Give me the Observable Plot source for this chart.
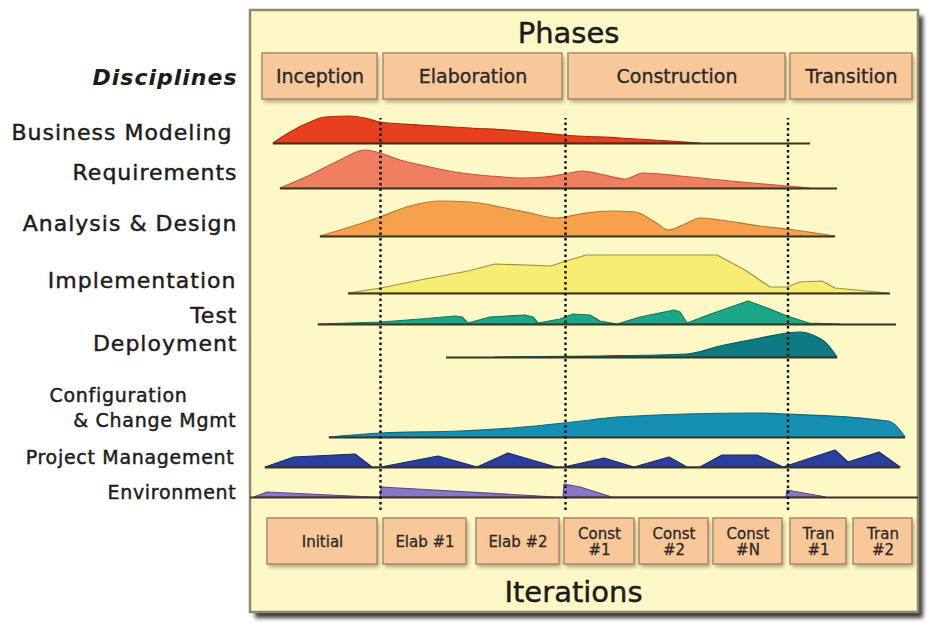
<!DOCTYPE html>
<html><head><meta charset="utf-8">
<script src="https://cdn.jsdelivr.net/npm/d3@7"></script>
<script src="https://cdn.jsdelivr.net/npm/@observablehq/plot@0.6"></script>
<style>body{margin:0;background:#fff}</style>
</head><body><div id="chart"></div>
<script>
// ---------- data (time in project days from panel start, effort in relative units) ----------
const phases = ["Inception", "Elaboration", "Construction", "Transition"];
const phaseStart = [12, 133, 318, 540];
const phaseEnd = [127, 312, 535, 662];

const iterations = ["Initial", "Elab #1", "Elab #2", "Const\n#1", "Const\n#2", "Const\n#N", "Tran\n#1", "Tran\n#2"];
const iterStart = [17, 133, 226, 314, 389, 463, 540, 603];
const iterEnd = [127, 216, 309, 384, 458, 532, 596, 662];

const disciplines = ["Business Modeling", "Requirements", "Analysis & Design", "Implementation", "Test",
  "Deployment", "Configuration & Change Mgmt", "Project Management", "Environment"];
const spanStart = [23, 30, 70, 98, 68, 196, 79, 15, 0];
const spanEnd = [560, 587, 585, 640, 646, 587, 655, 650, 668];

const businessModeling = [[23,0],[40,11],[60,21],[75,26],[100,27],[115,25],[130,21],[170,18],[220,15],[270,12],[313,8],[370,5],[420,2],[450,0]];
const requirements = [[30,0],[60,13],[90,28],[115,38],[130,35],[150,28],[180,21],[205,16],[240,12],[270,10],[295,11],[315,14],[332,17],[350,14],[375,9],[393,15],[430,12],[480,7],[537,2],[560,0]];
const analysisDesign = [[70,0],[100,9],[130,19],[160,30],[190,35],[220,34],[250,29],[280,23],[306,18],[330,22],[360,25],[385,24],[405,14],[419,6],[435,12],[450,18],[470,16],[510,10],[537,7],[585,0]];
const implementation = [[98,0],[131,5],[170,13],[218,22],[245,29],[301,27],[313,31],[336,38],[467,38],[495,23],[520,6],[537,6],[550,11],[572,12],[585,5],[638,0]];
const test = [[68,0],[131,2],[170,5],[205,8],[212,7],[218,1],[240,7],[275,9],[283,7],[288,1],[310,5],[323,10],[340,9],[350,3],[367,0],[390,7],[424,14],[430,12],[437,1],[458,9],[498,23],[520,15],[537,8],[559,1],[590,0]];
const deployment = [[245,0],[350,1],[437,3],[470,11],[510,19],[537,24],[550,25],[565,21],[575,15],[582,7],[587,0]];
const configuration = [[79,0],[131,4],[210,6],[262,9],[314,14],[340,17],[367,20],[502,24],[537,23],[638,16],[655,0]];
const projectManagement = [[15,0],[44,10],[105,13],[122,0],[131,0],[188,11],[227,0],[258,14],[306,0],[314,0],[354,9],[384,0],[419,10],[437,0],[450,0],[472,12],[507,12],[533,0],[585,17],[598,5],[629,15],[650,0]];
const environment = [[4,0],[17,5],[122,0],[130,0],[131,10],[306,0],[313,0],[314,13],[330,10],[362,0],[536,0],[537,7],[576,0]];

const profiles = [businessModeling, requirements, analysisDesign, implementation, test, deployment, configuration, projectManagement, environment];

// ---------- layout & style ----------
const rowBase = [485, 440, 392, 335, 304, 271, 191, 161, 131];
const fills = ["#e8401e", "#f07f62", "#f6a24c", "#f8ec72", "#1ca887", "#0e7a82", "#1590b2", "#2b3f9e", "#8677c8"];
const strokes = ["#a82a10", "#c05a40", "#b8782e", "#9a9440", "#0e7a5e", "#085a60", "#0b6a86", "#18296e", "#56489a"];
const curves = ["monotone-x", "monotone-x", "monotone-x", "linear", "linear", "monotone-x", "monotone-x", "linear", "linear"];

const labels = [
  {text: "Business Modeling", x: -18, y: 496, big: true},
  {text: "Requirements", x: -13, y: 456, big: true},
  {text: "Analysis & Design", x: -13, y: 405, big: true},
  {text: "Implementation", x: -14, y: 348, big: true},
  {text: "Test", x: -13, y: 313, big: true},
  {text: "Deployment", x: -13, y: 285, big: true},
  {text: "Configuration", x: -63, y: 233, big: false},
  {text: "& Change Mgmt", x: -14, y: 208, big: false},
  {text: "Project Management", x: -16, y: 171, big: false},
  {text: "Environment", x: -14, y: 136, big: false}
];

const panel = [{x1: 0, x2: 668, y1: 16, y2: 618}];
const phaseBox = {y1: 529, y2: 575, labelY: 552};
const iterBox = {y1: 64, y2: 110, labelY: 87};
const titleX = 318;
const ink = "#1c1c1c";
const heavy = {stroke: ink, strokeWidth: 0.45};

const phaseData = phases.map((p, i) => ({name: p, x1: phaseStart[i], x2: phaseEnd[i]}));
const iterData = iterations.map((p, i) => ({name: p, x1: iterStart[i], x2: iterEnd[i]}));
const boundaries = phaseStart.slice(1).map((s, i) => (phaseEnd[i] + s) / 2);

const humpMarks = profiles.map((prof, i) => Plot.areaY(
  prof.map(([t, e]) => ({t, lo: rowBase[i], hi: rowBase[i] + e})),
  {x: "t", y1: "lo", y2: "hi", fill: fills[i], stroke: strokes[i], strokeWidth: 1.2, curve: curves[i]}
));

const spans = disciplines.map((d, i) => ({d, x1: spanStart[i], x2: spanEnd[i], y: rowBase[i]}));

const chart = Plot.plot({
  width: 932, height: 628,
  margin: 0,
  x: {domain: [-250, 682], range: [0, 932], axis: null},
  y: {domain: [0, 628], range: [628, 0], axis: null},
  style: {fontFamily: "DejaVu Sans, Verdana, sans-serif", background: "#ffffff", color: "#222"},
  marks: [
    // panel shadow + panel
    Plot.rect(panel, {x1: "x1", x2: "x2", y1: "y1", y2: "y2", fill: "#3a3a3a", dx: 5, dy: 6, ariaDescription: "blur"}),
    Plot.rect(panel, {x1: "x1", x2: "x2", y1: "y1", y2: "y2", fill: "#fdf8c6", stroke: "#8b8a6c", strokeWidth: 2.5}),
    Plot.text(["Phases"], {x: titleX, y: 595, text: d => d, fontSize: 29, fill: ink, ...heavy}),
    // phase boxes
    Plot.rect(phaseData, {x1: "x1", x2: "x2", y1: phaseBox.y1, y2: phaseBox.y2, fill: "#7a6a40", fillOpacity: 0.6, dx: 2, dy: 3, ariaDescription: "blur"}),
    Plot.rect(phaseData, {x1: "x1", x2: "x2", y1: phaseBox.y1, y2: phaseBox.y2, fill: "#f8c898", stroke: "#a88a68", strokeWidth: 1.5}),
    Plot.text(phaseData, {x: d => (d.x1 + d.x2) / 2, y: phaseBox.labelY, text: "name", fontSize: 19, fill: "#2a2a2a", stroke: "#2a2a2a", strokeWidth: 0.35}),
    // humps
    ...humpMarks,
    // baselines
    Plot.ruleY(spans, {y: "y", x1: "x1", x2: "x2", stroke: "#3a3520", strokeWidth: 2}),
    // phase boundary dotted lines
    Plot.ruleX(boundaries, {x: d => d, y1: 118, y2: 510, stroke: "#111", strokeWidth: 2.4, strokeDasharray: "2.5,3"}),
    // iteration boxes
    Plot.rect(iterData, {x1: "x1", x2: "x2", y1: iterBox.y1, y2: iterBox.y2, fill: "#7a6a40", fillOpacity: 0.6, dx: 2, dy: 3, ariaDescription: "blur"}),
    Plot.rect(iterData, {x1: "x1", x2: "x2", y1: iterBox.y1, y2: iterBox.y2, fill: "#f8c898", stroke: "#a88a68", strokeWidth: 1.5}),
    Plot.text(iterData, {x: d => (d.x1 + d.x2) / 2, y: iterBox.labelY, text: "name", fontSize: 15, lineHeight: 1.1, fill: "#2a2a2a", stroke: "#2a2a2a", strokeWidth: 0.3}),
    Plot.text(["Iterations"], {x: titleX + 5, y: 36, text: d => d, fontSize: 29, fill: ink, ...heavy}),
    // discipline labels
    Plot.text(["Disciplines"], {x: -13, y: 551, text: d => d, textAnchor: "end", fontSize: 22, fontWeight: "bold", fontStyle: "italic", fill: ink, ariaDescription: "spaced"}),
    Plot.text(labels.filter(l => l.big), {x: "x", y: "y", text: "text", textAnchor: "end", fontSize: 22, fill: ink, ...heavy, ariaDescription: "spaced"}),
    Plot.text(labels.filter(l => !l.big), {x: "x", y: "y", text: "text", textAnchor: "end", fontSize: 19, fill: ink, ...heavy, ariaDescription: "spaced-small"})
  ]
});

// soft shadows and letter spacing
const svg = d3.select(chart);
const defs = svg.insert("defs", ":first-child");
defs.append("filter").attr("id", "soft").attr("x", "-5%").attr("y", "-5%").attr("width", "110%").attr("height", "110%")
  .append("feGaussianBlur").attr("stdDeviation", 2);
svg.selectAll('g[aria-description="blur"]').attr("filter", "url(#soft)");
svg.selectAll('g[aria-description="spaced"]').style("letter-spacing", "1px");
svg.selectAll('g[aria-description="spaced-small"]').style("letter-spacing", "0.7px");

document.getElementById("chart").append(chart);
</script>
</body></html>
